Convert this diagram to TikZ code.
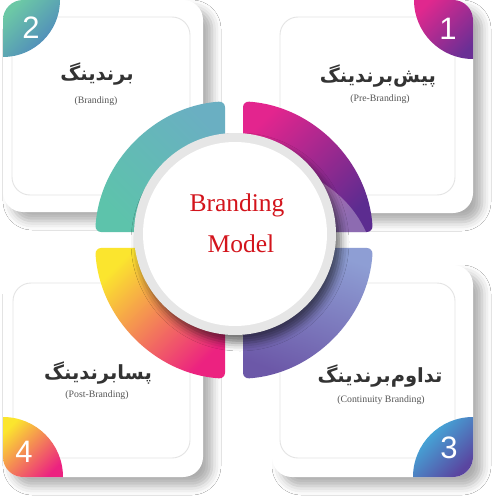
\documentclass[tikz,border=0pt]{standalone}
\usepackage{fontspec}
\usetikzlibrary{shadows.blur}
\TeXXeTstate=1
\newfontfamily\arabicfont[Script=Arabic]{DejaVu Sans}
\newfontfamily\numfont{Liberation Sans}
\newfontfamily\serifen{Liberation Serif}
\definecolor{bordergray}{HTML}{E4E4E4}
\definecolor{rimgray}{HTML}{E6E6E6}
\definecolor{fagray}{HTML}{333333}
\definecolor{engray}{HTML}{555555}
\definecolor{titlered}{HTML}{D3141C}
\definecolor{tealA}{HTML}{6AAFC2}
\definecolor{tealB}{HTML}{5DC3AB}
\definecolor{magA}{HTML}{E3258E}
\definecolor{magB}{HTML}{5C2C90}
\definecolor{perA}{HTML}{8E9ED4}
\definecolor{perB}{HTML}{6C58A8}
\definecolor{yelA}{HTML}{FBE52E}
\definecolor{yelM}{HTML}{F5A04F}
\definecolor{yelB}{HTML}{EC2280}
\definecolor{bTwoA}{HTML}{6CC8A6}
\definecolor{bTwoB}{HTML}{4A7FC0}
\definecolor{bOneA}{HTML}{E0288E}
\definecolor{bOneB}{HTML}{6A2F95}
\definecolor{bThrA}{HTML}{3FC0E6}
\definecolor{bThrB}{HTML}{5A45A0}
\begin{document}
\begin{tikzpicture}[x=1pt,y=1pt,
  cardbox/.style={fill=white, rounded corners=20pt,
    blur shadow={shadow xshift=9pt, shadow yshift=-9pt, shadow blur radius=9pt, shadow opacity=32}},
  innerbox/.style={draw=bordergray, line width=0.9pt, rounded corners=18pt},
  numtext/.style={text=white, font=\numfont\fontsize{31}{31}\selectfont},
  fatext/.style={text=fagray, font=\arabicfont\bfseries\fontsize{19.5}{22}\selectfont},
  entext/.style={text=engray, font=\serifen\fontsize{9.8}{11}\selectfont},
  titletext/.style={text=titlered, font=\serifen\fontsize{25.5}{28}\selectfont, anchor=base},
  seg/.style={rounded corners=6pt}
]
\useasboundingbox (0,0) rectangle (500,-500);
\fill[white] (0,0) rectangle (500,-500);

% cards
\path[cardbox] (3,0) rectangle (203,-212);
\path[cardbox] (272,0) rectangle (473,-213);
\path[cardbox] (3,-265) rectangle (203,-477);
\path[cardbox] (272,-265) rectangle (473,-477);

\draw[innerbox] (12,-17) rectangle (190,-195);
\draw[innerbox] (280,-17) rectangle (455,-195);
\draw[innerbox] (13,-283) rectangle (190,-458);
\draw[innerbox] (280,-283) rectangle (455,-458);

% badges
\begin{scope}
  \clip[rounded corners=20pt] (3,0) rectangle (203,-212);
  \clip (3,0) circle[radius=57pt];
  \shade[top color=bTwoA, bottom color=bTwoB, shading angle=45] (3,0) rectangle (62,-60);
\end{scope}
\begin{scope}
  \clip[rounded corners=20pt] (272,0) rectangle (473,-213);
  \clip (473,0) circle[radius=59pt];
  \shade[top color=bOneA, bottom color=bOneB, shading angle=45] (412,0) rectangle (473,-62);
\end{scope}
\begin{scope}
  \clip[rounded corners=20pt] (272,-265) rectangle (473,-477);
  \clip (473,-477) circle[radius=60pt];
  \shade[top color=bThrA, bottom color=bThrB, shading angle=45] (411,-415) rectangle (473,-477);
\end{scope}
\begin{scope}
  \clip[rounded corners=20pt] (3,-265) rectangle (203,-477);
  \clip (3,-477) circle[radius=60pt];
  \shade[top color=yelA, middle color=yelM, bottom color=yelB, shading angle=45] (3,-415) rectangle (65,-477);
\end{scope}

\node[numtext] (n2) at (31,-27.5) {2};
\node[numtext] (n1) at (448,-29) {1};
\node[numtext] (n3) at (449,-448) {3};
\node[numtext] (n4) at (24,-452) {4};

% ring segments
\shade[seg, top color=tealA, bottom color=tealB, shading angle=-45]
  (225,-170) -- (225,-101.3) arc[start angle=93.7, end angle=176.7, radius=139pt] -- (170,-232) -- cycle;
\shade[seg, top color=magA, bottom color=magB, shading angle=45]
  (243,-170) -- (243,-101.3) arc[start angle=86.3, end angle=3.3, radius=139pt] -- (300,-232) -- cycle;
\shade[seg, top color=perA, bottom color=perB, shading angle=-20]
  (243,-310) -- (243,-378.7) arc[start angle=-86.3, end angle=-3.3, radius=139pt] -- (300,-248) -- cycle;
\shade[seg, top color=yelA, middle color=yelM, bottom color=yelB, shading angle=45]
  (225,-310) -- (225,-378.7) arc[start angle=-93.7, end angle=-176.7, radius=139pt] -- (170,-248) -- cycle;

% light fold on magenta segment
\fill[white, opacity=0.3] (313,-177) .. controls (345,-195) and (358,-215) .. (366,-232)
  -- (336,-232) .. controls (333,-210) and (325,-190) .. (313,-177);

% centre circle
\fill[rimgray, blur shadow={shadow xshift=5pt, shadow yshift=-8pt, shadow blur radius=8pt, shadow opacity=55}]
  (235,-234) circle[radius=101pt];
\fill[white] (235,-234) circle[radius=92pt];

\node[titletext] (m1) at (237,-211) {Branding};
\node[titletext] (m2) at (241,-252) {Model};

% texts
\node[fatext] (t2) at (97,-74) {\beginR برندینگ\endR};
\node[entext] (e2) at (96,-101) {(Branding)};
\node[fatext] (t1) at (378,-76) {\beginR پیش‌برندینگ\endR};
\node[entext] (e1) at (380,-99.5) {(Pre-Branding)};
\node[fatext] (t4) at (98,-373) {\beginR پسابرندینگ\endR};
\node[entext] (e4) at (97,-395) {(Post-Branding)};
\node[fatext] (t3) at (380,-376) {\beginR تداوم‌برندینگ\endR};
\node[entext] (e3) at (381,-400) {(Continuity Branding)};
\end{tikzpicture}
\end{document}
